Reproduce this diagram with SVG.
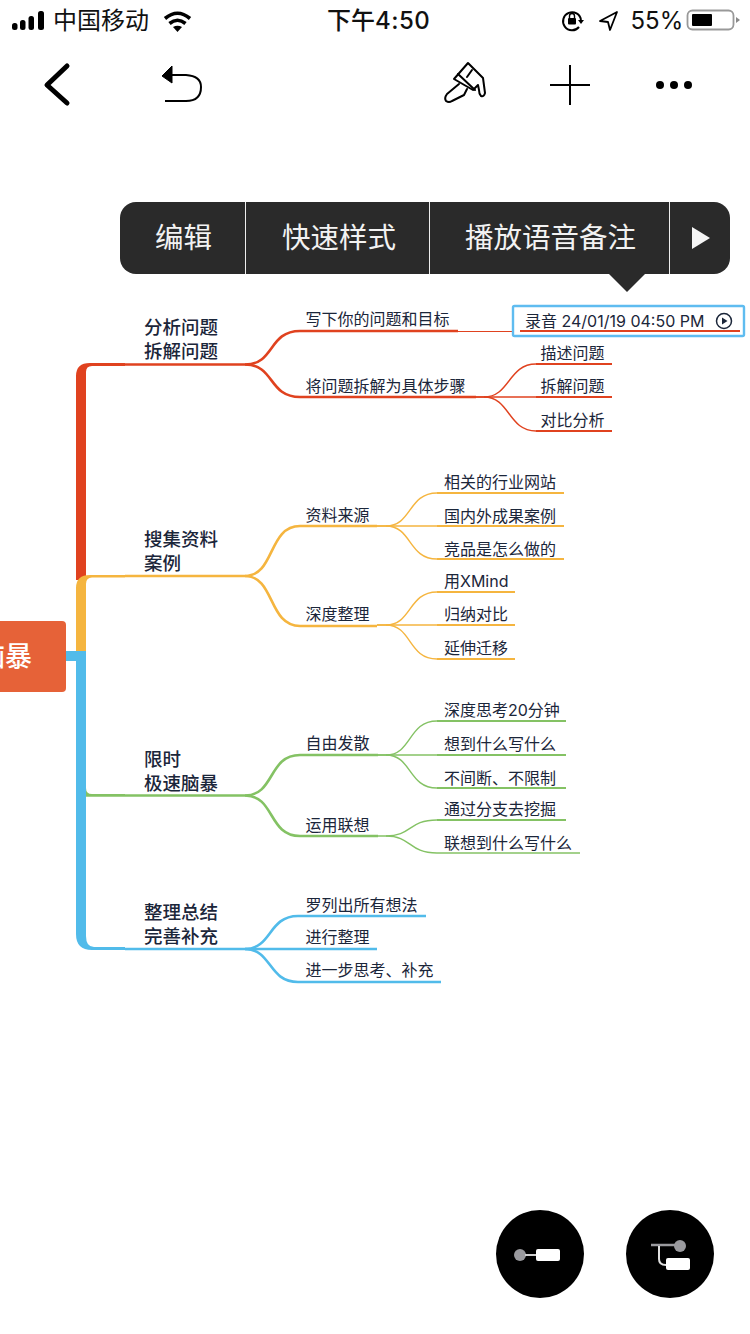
<svg xmlns="http://www.w3.org/2000/svg" width="750" height="1334" viewBox="0 0 750 1334">
<style>
text{font-family:"Inter","Noto Sans CJK SC","Liberation Sans",sans-serif;fill:#1b263a}
.s{font-size:24px;fill:#111}
.t1{font-size:18.5px;font-weight:500}
.t2{font-size:16px}
.m{font-size:28.500px;fill:#f2f2f2}
.c{fill:none;stroke-linecap:butt}
.a{stroke-width:2.6}.b{stroke-width:1.4}.d{stroke-width:1.2}.u{stroke-width:2.2}
.r{stroke:#e0421f}.y{stroke:#f5b53f}.g{stroke:#84c264}.l{stroke:#51bbea}
.i{fill:none;stroke:#000;stroke-width:2;stroke-linejoin:round;stroke-linecap:round}
</style>
<rect width="750" height="1334" fill="#fff"/>
<g id="status-bar">
<rect x="12" y="23" width="5.500" height="7" rx="2.500" fill="#000"/><rect x="20" y="20" width="5.500" height="10" rx="2.500" fill="#000"/><rect x="28.500" y="16" width="5.500" height="14" rx="2.500" fill="#000"/><rect x="38" y="11" width="6" height="19" rx="2.500" fill="#000"/>
<text class="s" x="53" y="29">中国移动</text>
<path d="M165 18.500Q177.500 8 190 18.500M169.500 23.500Q177.500 17 185.500 23.500" fill="none" stroke="#000" stroke-width="3.600"/><path d="M173 27Q177.500 24.500 182 27L177.500 32Z" fill="#000"/>
<text class="s" x="327" y="29" font-weight="500">下午<tspan letter-spacing="0.5">4:50</tspan></text>
<path d="M579 27A9 9 0 1 1 581 20" fill="none" stroke="#000" stroke-width="2"/><path d="M578 20H584L581 24Z" fill="#000"/><rect x="568" y="18" width="8" height="6.500" rx="1" fill="#000"/><path d="M569.500 18v-2a2.500 2.500 0 0 1 5 0v2" fill="none" stroke="#000" stroke-width="1.400"/>
<path d="M617 12L600 21L608 22L610 30Z" fill="none" stroke="#000" stroke-width="1.800" stroke-linejoin="round"/>
<text class="s" x="630.500" y="29">55%</text>
<rect x="687.500" y="10.500" width="46" height="19" rx="5" fill="#fff" stroke="#999" stroke-width="1.800"/><rect x="692" y="14" width="20" height="12" rx="1" fill="#000"/><path d="M736 17L740 20L736 23Z" fill="#888"/>
</g>
<g id="toolbar">
<path d="M67 66L47 85L67 103" fill="none" stroke="#000" stroke-width="5" stroke-linecap="round" stroke-linejoin="round"/>
<path d="M172 66L162 76L172 83Z" fill="#000" stroke="#000" stroke-linejoin="round"/><path d="M170 75H186Q201 76 201 87Q201 101 186 101H165" fill="none" stroke="#000" stroke-width="2"/>
<path class="i" d="M468 63L483 78L485 93Q484 97 481 96Q479 94 479 90L478 85L473 90L454 79Z"/>
<path class="i" d="M458 74L475 90M472 70L467 77" stroke-width="1.500"/>
<path class="i" d="M459 84L447 94Q444 98 446 101Q449 103 452 101L464 95L467 89"/>
<path d="M550 85H590M570 65V105" fill="none" stroke="#000" stroke-width="2"/>
<circle cx="660" cy="85" r="4" fill="#000"/><circle cx="674" cy="85" r="4" fill="#000"/><circle cx="688" cy="85" r="4" fill="#000"/>
</g>
<g id="connectors">
<path d="M66 651H86V661H66Z" fill="#51bbea"/>
<path d="M76 580V376Q76 363 90 363H125V366H92Q86 366 86 372V580Z" fill="#e0421f"/>
<path d="M76 652V588Q76 575 90 575H125V577.500H92Q86 577.500 86 584V652Z" fill="#f5b53f"/>
<path d="M86 783V788Q86 794 92 794H125V796.800H86Z" fill="#84c264"/>
<path d="M76 651H86V936Q86 947 94 947H125V950H92Q76 950 76 934Z" fill="#51bbea"/>
<path class="c a r" d="M125 364.500H245C275 364.500 268 331 300 331H458"/>
<path class="c a r" d="M245 364.500C275 364.500 268 397 300 397H476"/>
<path class="c d r" d="M458 331.500H512"/>
<path class="c u r" d="M520 331H740"/>
<path class="c b r" d="M476 397H484C510 397 508 364 536 364"/>
<path class="c b r" d="M476 397H536"/>
<path class="c b r" d="M484 397C510 397 508 431 536 431"/>
<path class="c u r" d="M536 397H612M536 431H612M536 364H612"/>
<path class="c a y" d="M125 576H245C275 576 268 526 300 526H377"/>
<path class="c a y" d="M245 576C275 576 268 626 300 626H377"/>
<path class="c b y" d="M377 526H386C412 526 408 493 437 493"/>
<path class="c b y" d="M377 526H437"/>
<path class="c b y" d="M386 526C412 526 408 559 437 559"/>
<path class="c b y" d="M377 625H386C412 625 408 592 437 592"/>
<path class="c b y" d="M377 625H437"/>
<path class="c b y" d="M386 625C412 625 408 659 437 659"/>
<path class="c u y" d="M437 493H564M437 526H564M437 559H564M437 592H515M437 625H515M437 659H515"/>
<path class="c a g" d="M125 795.500H245C275 795.500 268 755 300 755H378"/>
<path class="c a g" d="M245 795.500C275 795.500 268 836 300 836H378"/>
<path class="c b g" d="M378 755H386C412 755 408 721 437 721"/>
<path class="c b g" d="M378 755H437"/>
<path class="c b g" d="M386 755C412 755 408 788 437 788"/>
<path class="c b g" d="M378 836H386C412 836 408 820 437 820"/>
<path class="c b g" d="M386 836C412 836 408 853 437 853"/>
<path class="c u g" d="M437 721H566M437 755H566M437 788H566M437 820H566"/>
<path class="c b g" d="M437 853H580"/>
<path class="c a l" d="M125 949H245C272 949 268 916 298 916H426"/>
<path class="c a l" d="M245 949H377"/>
<path class="c a l" d="M245 949C272 949 268 982 298 982H441"/>
</g>
<g id="root"><rect x="-30" y="621" width="96" height="71" rx="4" fill="#e66238"/><text x="32" y="666" text-anchor="end" style="font-size:27px;font-weight:500;fill:#fff">脑暴</text></g>
<g id="n-1"><text class="t1" x="144" y="334">分析问题</text><text class="t1" x="144" y="358">拆解问题</text></g>
<g id="n-1-1"><text class="t2" x="305.500" y="325">写下你的问题和目标</text></g>
<g id="n-note"><rect x="513" y="306" width="231" height="30" rx="1.500" fill="none" stroke="#5fbcf0" stroke-width="2.400"/><text class="t2" x="525" y="327">录音 24/01/19 04:50 PM</text><circle cx="724" cy="321" r="7.500" fill="none" stroke="#1b263a" stroke-width="1.500"/><path d="M722 317.500L727.500 321L722 324.500Z" fill="#1b263a"/></g>
<g id="n-1-2"><text class="t2" x="305.500" y="392">将问题拆解为具体步骤</text></g>
<g id="n-1-2-1"><text class="t2" x="540.500" y="359">描述问题</text></g>
<g id="n-1-2-2"><text class="t2" x="540.500" y="392">拆解问题</text></g>
<g id="n-1-2-3"><text class="t2" x="540.500" y="426">对比分析</text></g>
<g id="n-2"><text class="t1" x="144" y="546">搜集资料</text><text class="t1" x="144" y="570">案例</text></g>
<g id="n-2-1"><text class="t2" x="305.500" y="521">资料来源</text></g>
<g id="n-2-1-1"><text class="t2" x="444" y="488">相关的行业网站</text></g>
<g id="n-2-1-2"><text class="t2" x="444" y="522">国内外成果案例</text></g>
<g id="n-2-1-3"><text class="t2" x="444" y="555">竞品是怎么做的</text></g>
<g id="n-2-2"><text class="t2" x="305.500" y="620">深度整理</text></g>
<g id="n-2-2-1"><text class="t2" x="444" y="587">用XMind</text></g>
<g id="n-2-2-2"><text class="t2" x="444" y="620">归纳对比</text></g>
<g id="n-2-2-3"><text class="t2" x="444" y="654">延伸迁移</text></g>
<g id="n-3"><text class="t1" x="144" y="766">限时</text><text class="t1" x="144" y="790">极速脑暴</text></g>
<g id="n-3-1"><text class="t2" x="305.500" y="749">自由发散</text></g>
<g id="n-3-1-1"><text class="t2" x="444" y="716">深度思考20分钟</text></g>
<g id="n-3-1-2"><text class="t2" x="444" y="750">想到什么写什么</text></g>
<g id="n-3-1-3"><text class="t2" x="444" y="784">不间断、不限制</text></g>
<g id="n-3-2"><text class="t2" x="305.500" y="831">运用联想</text></g>
<g id="n-3-2-1"><text class="t2" x="444" y="815">通过分支去挖掘</text></g>
<g id="n-3-2-2"><text class="t2" x="444" y="849">联想到什么写什么</text></g>
<g id="n-4"><text class="t1" x="144" y="919">整理总结</text><text class="t1" x="144" y="943">完善补充</text></g>
<g id="n-4-1"><text class="t2" x="305.500" y="911">罗列出所有想法</text></g>
<g id="n-4-2"><text class="t2" x="305.500" y="943">进行整理</text></g>
<g id="n-4-3"><text class="t2" x="305.500" y="976">进一步思考、补充</text></g>
<g id="popup-menu">
<rect x="120" y="202" width="610" height="72" rx="16" fill="#2a2a2a"/>
<path d="M609 274H645L627 292Z" fill="#2a2a2a"/>
<path d="M245.500 202V274M429.500 202V274M669.500 202V274" stroke="#eee" stroke-width="1"/>
<text class="m" x="155" y="248">编辑</text>
<text class="m" x="282" y="248">快速样式</text>
<text class="m" x="465" y="248">播放语音备注</text>
<path d="M692 227L710 238L692 249Z" fill="#f5f5f5"/>
</g>
<g id="fab-1"><circle cx="540" cy="1254" r="44" fill="#000"/><circle cx="520" cy="1255" r="6" fill="#9a9a9e"/><path d="M525 1255H538" stroke="#d0d0d0" stroke-width="2"/><rect x="536" y="1249" width="24" height="12" rx="2" fill="#fff"/></g>
<g id="fab-2"><circle cx="670" cy="1254" r="44" fill="#000"/><path d="M651 1245H676" stroke="#9a9a9e" stroke-width="2.500"/><circle cx="680" cy="1246" r="6" fill="#9a9a9e"/><path d="M659 1246V1259Q659 1265 666 1265H670" fill="none" stroke="#e0e0e0" stroke-width="2"/><rect x="666" y="1258" width="24" height="12" rx="2" fill="#fff"/></g>
</svg>
